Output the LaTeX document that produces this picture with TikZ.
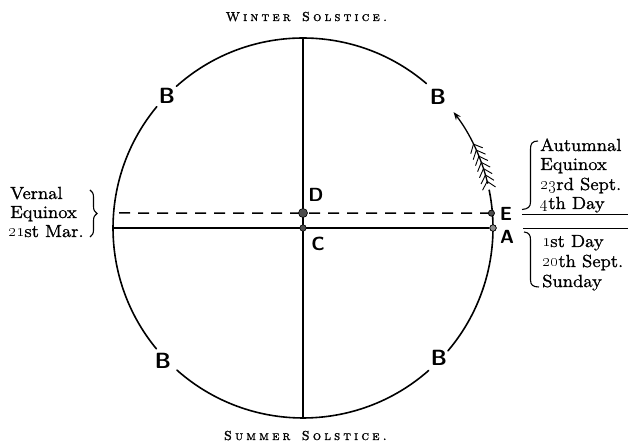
\documentclass[tikz,border=0pt]{standalone}
\usetikzlibrary{arrows.meta,decorations.pathreplacing}
\font\bodyf="[lmroman12-regular]:embolden=1.3;extend=1.08" at 17.5pt
\font\titlef="[lmromancaps10-regular]:embolden=1.5" at 13pt
\newcommand\lsp[1]{\lsploop#1\relax}
\def\lsploop#1{\ifx#1\relax\else#1\kern3.2pt\expandafter\lsploop\fi}
\tikzset{
  circ/.style={line width=1.6pt, line cap=round},
  axis/.style={line width=1.5pt},
  dashline/.style={line width=1.5pt, dash pattern=on 11pt off 8pt},
  dot/.style={circle, fill=black!70, draw=black, line width=0.6pt, inner sep=0pt, minimum size=#1},
  lbl/.style={inner sep=0pt, anchor=base west, font=\fontsize{17.5}{19}\selectfont\bodyf},
  title/.style={inner sep=0pt, anchor=base, font=\titlef},
  letter/.style={inner sep=0pt, font=\fontsize{19}{19}\selectfont\sffamily\bfseries},
  bletter/.style={inner sep=0pt, font=\fontsize{22}{22}\selectfont\sffamily\bfseries},
  feather/.style={line width=0.9pt},
  bracepath/.style={line width=1.1pt}
}
\begin{document}
\begin{tikzpicture}[x=1pt,y=1pt]
\useasboundingbox (0,0) rectangle (628,443);
\coordinate (O) at (303,215);
% circle arcs with gaps
\draw[circ] ([shift={(49.5:190)}]O) arc[start angle=49.5,end angle=131.8,radius=190pt];
\draw[circ] ([shift={(140.3:190)}]O) arc[start angle=140.3,end angle=219.5,radius=190pt];
\draw[circ] ([shift={(228.4:190)}]O) arc[start angle=228.4,end angle=311.4,radius=190pt];
\draw[circ] ([shift={(319.7:190)}]O) arc[start angle=319.7,end angle=371.5,radius=190pt];
% arrow along the circle
\draw[line width=1.3pt,-{Stealth[length=8pt,width=6pt]}] ([shift={(13.5:190)}]O) arc[start angle=13.5,end angle=37.6,radius=190pt];
\foreach \a in {14.2,16.2,18.2,20.2,22.2,24.2,26.2}{
  \draw[feather] ([shift={(\a:190)}]O) -- ++(\a-48:10);
  \draw[feather] ([shift={(\a:190)}]O) -- ++(\a-132:10);
}
% axes
\coordinate (top) at (303,405);
\coordinate (bot) at (303,25);
\coordinate (left) at (113,215);
\coordinate (dl) at (119,230);
\node[dot=6.5pt] (Adot) at ([shift={(0:190)}]O) {};
\node[dot=6pt] (Edot) at ([shift={(4.5:189)}]O) {};
\draw[axis] (top) -- (bot);
\draw[axis] (left) -- (Adot);
\draw[dashline] (dl) -- (Edot);
\node[dot=9pt] (Ddot) at (303,230) {};
\node[dot=6.5pt] (Cdot) at (O) {};
\node[dot=6.5pt, fill=black!45] at (Adot) {};
\node[dot=6pt] at (Edot) {};
% letters
\node[letter] (Dl) at (316,248) {D};
\node[letter] (Cl) at (318,199) {C};
\node[letter] (El) at (506,229) {E};
\node[letter] (Al) at (507,206) {A};
\node[bletter] (B1) at (167,347) {B};
\node[bletter] (B2) at (438,346) {B};
\node[bletter] (B3) at (163,82) {B};
\node[bletter] (B4) at (439,85) {B};
% titles
\node[title] (win) at (308,422) {\lsp{Winter~Solstice.}};
\node[title] (sum) at (307,3) {\lsp{Summer~Solstice.}};
% vernal
\node[lbl] (v1) at (10,244) {Vernal};
\node[lbl] (v2) at (10,225) {Equinox};
\node[lbl] (v3) at (8,206) {\oldstylenums{21}st Mar.};
\draw[bracepath, decorate, decoration={brace, amplitude=7pt}] (90,253) -- (90,206);
% autumnal
\node[lbl] (a1) at (540,292) {Autumnal};
\node[lbl] (a2) at (540,273) {Equinox};
\node[lbl] (a3) at (540,253) {\oldstylenums{23}rd Sept.};
\node[lbl] (a4) at (540,234) {\oldstylenums{4}th Day};
\node[lbl] (s1) at (542,196) {\oldstylenums{1}st Day};
\node[lbl] (s2) at (542,176) {\oldstylenums{20}th Sept.};
\node[lbl] (s3) at (542,156) {Sunday};
\coordinate (r1a) at (522,228.5);
\coordinate (r1b) at (628,228.5);
\coordinate (r2a) at (523,214.5);
\coordinate (r2b) at (628,214.5);
\draw[line width=1pt] (r1a) -- (r1b);
\draw[line width=1pt] (r2a) -- (r2b);
\draw[bracepath] (538,302) .. controls (532,302) and (530.5,299) .. (530.5,294) -- (530.5,241) .. controls (530.5,236) and (528,234) .. (522,233.5);
\draw[bracepath] (524,211) .. controls (529,210.5) and (530.5,208) .. (530.5,203) -- (530.5,163) .. controls (530.5,158) and (533,156) .. (539,156);
\end{tikzpicture}
\end{document}
